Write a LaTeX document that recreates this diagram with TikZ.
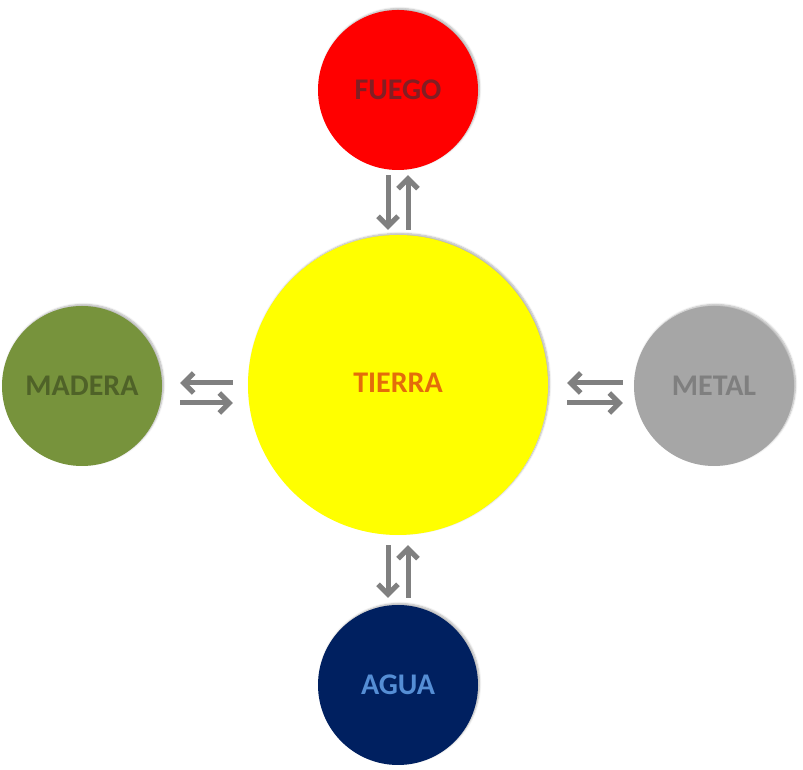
\documentclass[tikz,border=0pt]{standalone}
\usepackage{fontspec}
\setmainfont{Carlito}
\usepackage{tikz}
\usetikzlibrary{positioning,arrows.meta,shadows.blur}

\definecolor{rojo}{RGB}{255,0,0}
\definecolor{rojotexto}{RGB}{130,30,35}
\definecolor{amarillo}{RGB}{255,255,0}
\definecolor{naranja}{RGB}{228,108,10}
\definecolor{verde}{RGB}{119,147,60}
\definecolor{verdetexto}{RGB}{79,98,40}
\definecolor{gris}{RGB}{166,166,166}
\definecolor{gristexto}{RGB}{127,127,127}
\definecolor{azul}{RGB}{0,32,96}
\definecolor{azultexto}{RGB}{85,142,213}
\definecolor{flechagris}{RGB}{128,128,128}

\tikzset{
  circulo/.style={circle, inner sep=0pt, minimum size=160pt,
    font=\fontsize{30}{30}\selectfont\bfseries,
    blur shadow={shadow xshift=1.5pt, shadow yshift=1.5pt, shadow blur steps=6, shadow opacity=30}},
  flecha/.style={draw=flechagris, line width=5pt,
    -{Straight Barb[length=10pt,width=20pt]}}
}

\begin{document}
\begin{tikzpicture}[x=1pt,y=1pt]
      \useasboundingbox (0,0) rectangle (803,770);
      \node[circulo, fill=amarillo, text=naranja, minimum size=300pt] (tierra) at (398,385) {\raisebox{5pt}{TIERRA}};
      \node[circulo, fill=rojo, text=rojotexto] (fuego) at (398,680) {FUEGO};
      \node[circulo, fill=azul, text=azultexto] (agua) at (398,85) {AGUA};
      \node[circulo, fill=verde, text=verdetexto] (madera) at (82,384) {MADERA};
      \node[circulo, fill=gris, text=gristexto] (metal) at (714,384) {METAL};

      % arriba y abajo
      \draw[flecha, shorten <=5pt, shorten >=5pt] ([xshift=-10pt]fuego.south) -- ([xshift=-10pt]tierra.north);
      \draw[flecha, shorten <=5pt, shorten >=5pt] ([xshift=10pt]tierra.north) -- ([xshift=10pt]fuego.south);
      \draw[flecha, shorten <=10pt, shorten >=7pt] ([xshift=-10pt]tierra.south) -- ([xshift=-10pt]agua.north);
      \draw[flecha, shorten <=7pt, shorten >=10pt] ([xshift=10pt]agua.north) -- ([xshift=10pt]tierra.south);

      % izquierda y derecha
      \draw[flecha, shorten <=15pt, shorten >=18pt] ([yshift=2pt]tierra.west) -- ([yshift=3pt]madera.east);
      \draw[flecha, shorten <=18pt, shorten >=15pt] ([yshift=-17pt]madera.east) -- ([yshift=-18pt]tierra.west);
      \draw[flecha, shorten <=11pt, shorten >=19pt] ([yshift=3pt]metal.west) -- ([yshift=2pt]tierra.east);
      \draw[flecha, shorten <=19pt, shorten >=11pt] ([yshift=-18pt]tierra.east) -- ([yshift=-17pt]metal.west);
\end{tikzpicture}
\end{document}
